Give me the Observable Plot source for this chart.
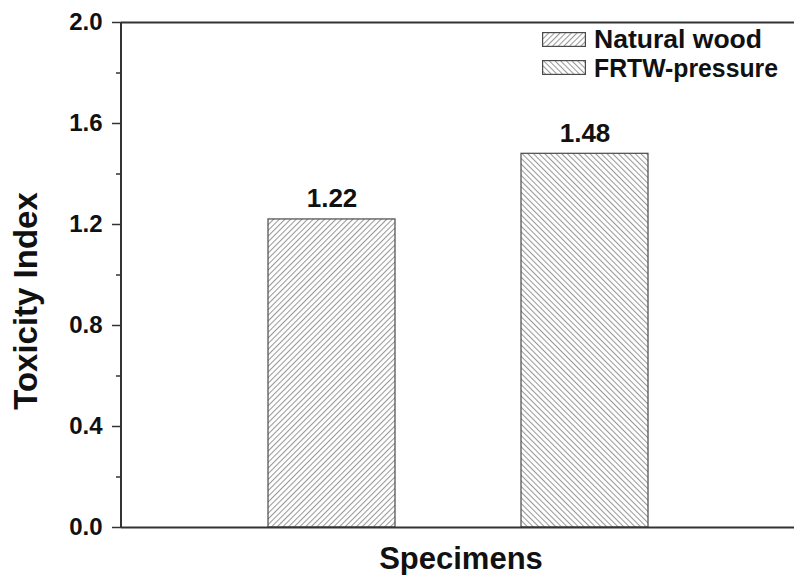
<!DOCTYPE html>
<html>
<head>
<meta charset="utf-8">
<script src="https://cdn.jsdelivr.net/npm/d3@7"></script>
<script src="https://cdn.jsdelivr.net/npm/@observablehq/plot@0.6"></script>
<style>
  html, body { margin: 0; padding: 0; background: #fff; }
  #wrap { position: relative; width: 794px; height: 575px; font-family: "Liberation Sans", Arial, sans-serif; }
  #legend { position: absolute; left: 540px; top: 24px; }
</style>
</head>
<body>
<div id="wrap"></div>
<script>
const specimens = ["Natural wood", "FRTW-pressure"];
const toxicity = [1.22, 1.48];
const patterns = ["hatchFwd", "hatchBack"];
const majorTicks = [0.0, 0.4, 0.8, 1.2, 1.6, 2.0];
const minorTicks = [0.2, 0.6, 1.0, 1.4, 1.8];

const data = specimens.map((s, i) => ({name: s, value: toxicity[i], fill: `url(#${patterns[i]})`}));
const NS = "http://www.w3.org/2000/svg";

function makePattern(id, angle) {
  const s = 4.0;
  const p = document.createElementNS(NS, "pattern");
  p.setAttribute("id", id);
  p.setAttribute("patternUnits", "userSpaceOnUse");
  p.setAttribute("width", s);
  p.setAttribute("height", s);
  p.setAttribute("patternTransform", `rotate(${angle})`);
  const r = document.createElementNS(NS, "rect");
  r.setAttribute("width", s); r.setAttribute("height", s); r.setAttribute("fill", "#fff");
  const l = document.createElementNS(NS, "line");
  l.setAttribute("x1", "0.5"); l.setAttribute("y1", "0"); l.setAttribute("x2", "0.5"); l.setAttribute("y2", s);
  l.setAttribute("stroke", "#999"); l.setAttribute("stroke-width", "1.1");
  p.appendChild(r); p.appendChild(l);
  return p;
}

function defsAndAxisLine(index, scales, values, dims) {
  const g = document.createElementNS(NS, "g");
  const defs = document.createElementNS(NS, "defs");
  defs.appendChild(makePattern(patterns[0], 45));
  defs.appendChild(makePattern(patterns[1], -45));
  g.appendChild(defs);
  const line = document.createElementNS(NS, "line");
  const x0 = dims.marginLeft;
  line.setAttribute("x1", x0); line.setAttribute("x2", x0);
  line.setAttribute("y1", scales.y(2.0)); line.setAttribute("y2", scales.y(0));
  line.setAttribute("stroke", "#333"); line.setAttribute("stroke-width", 2);
  g.appendChild(line);
  return g;
}

const chart = Plot.plot({
  width: 794,
  height: 575,
  marginLeft: 121,
  marginRight: 0,
  marginTop: 22,
  marginBottom: 48,
  style: {fontFamily: "'Liberation Sans', Arial, sans-serif", background: "#fff", color: "#111"},
  x: {domain: specimens, paddingInner: 0.5, paddingOuter: 0.575, axis: null},
  y: {domain: [0, 2.0], axis: null},
  marks: [
    defsAndAxisLine,
    Plot.barY(data, {x: "name", y: "value", fill: "fill", stroke: "#4a4a4a", strokeWidth: 1.2}),
    Plot.text(data, {x: "name", y: "value", text: d => d.value.toFixed(2), dy: -12, lineAnchor: "bottom",
      fontSize: 26, fontWeight: "bold", fill: "#111"}),
    Plot.ruleY([0, 2.0], {stroke: "#333", strokeWidth: 2}),
    Plot.axisY(majorTicks, {tickSize: 9, tickFormat: () => "", label: null, stroke: "#333", strokeWidth: 1.5}),
    Plot.axisY(minorTicks, {tickSize: 5, tickFormat: () => "", label: null, stroke: "#333", strokeWidth: 1.5}),
    Plot.text(majorTicks, {y: d => d, frameAnchor: "left", textAnchor: "end", dx: -19,
      text: d => d3.format(".1f")(d), fontSize: 24, fontWeight: "bold", fill: "#111"}),
    Plot.text(["Toxicity Index"], {frameAnchor: "left", textAnchor: "middle", rotate: -90, dx: -85, dy: 26,
      lineAnchor: "bottom", fontSize: 33, fontWeight: "bold", fill: "#111"}),
    Plot.text(["Specimens"], {frameAnchor: "bottom", textAnchor: "middle", dx: 3, dy: 41, lineAnchor: "bottom",
      fontSize: 31, fontWeight: "bold", fill: "#111"})
  ]
});

const wrap = document.getElementById("wrap");
wrap.appendChild(chart);

// legend (swatch + label), overlaid top-right
const legendWidths = [168, 184];
const legend = document.createElementNS(NS, "svg");
legend.id = "legend";
legend.setAttribute("width", 254); legend.setAttribute("height", 70);
specimens.forEach((s, i) => {
  const y0 = 8 + i * 28;
  const r = document.createElementNS(NS, "rect");
  r.setAttribute("x", 2.6); r.setAttribute("y", y0 + 0.6); r.setAttribute("width", 42.8); r.setAttribute("height", 13.8);
  r.setAttribute("fill", `url(#${patterns[i]})`); r.setAttribute("stroke", "#4a4a4a"); r.setAttribute("stroke-width", 1.2);
  legend.appendChild(r);
  const t = document.createElementNS(NS, "text");
  t.setAttribute("x", 54); t.setAttribute("y", y0 + 16 + i);
  t.setAttribute("font-family", "'Liberation Sans', Arial, sans-serif");
  t.setAttribute("font-weight", "bold"); t.setAttribute("font-size", 26); t.setAttribute("fill", "#111");
  t.setAttribute("textLength", legendWidths[i]); t.setAttribute("lengthAdjust", "spacingAndGlyphs");
  t.textContent = s;
  legend.appendChild(t);
});
wrap.appendChild(legend);
</script>
</body>
</html>
